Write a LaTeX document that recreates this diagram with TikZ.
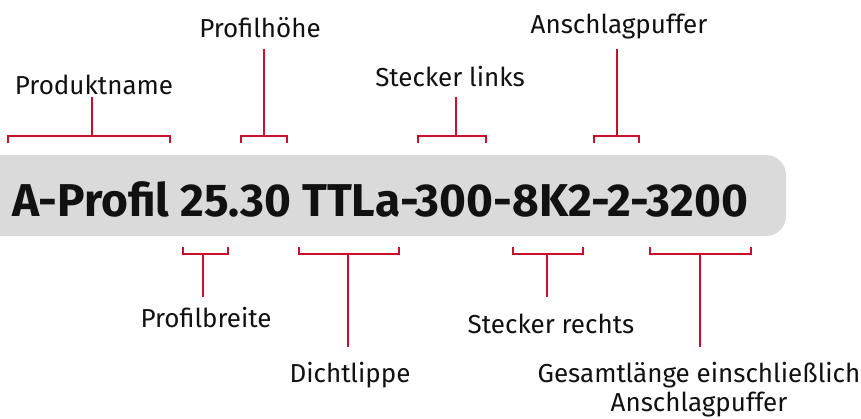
\documentclass[tikz,border=0pt]{standalone}
\usepackage{fontspec}
\setmainfont{Fira Sans}
\usepackage{tikz}
\usepackage{xcolor}
\usetikzlibrary{positioning, calc}
\definecolor{TagRed}{HTML}{C8102E}
\definecolor{TagGrey}{HTML}{DADADA}
\definecolor{TagBlack}{HTML}{111111}

\begin{document}
\begin{tikzpicture}[
    x=1pt, y=-1pt,
    bracket/.style={draw=TagRed, line width=2pt},
    lbl/.style={font=\fontsize{26}{29}\selectfont, text=TagBlack, inner sep=0pt, anchor=base},
    code/.style={font=\fontsize{46}{50}\selectfont\bfseries, text=TagBlack, inner sep=0pt, anchor=base west}
]
\useasboundingbox (0,0) rectangle (861,418);

% Grey band with the article code
\fill[TagGrey, rounded corners=20pt] (-40,155) rectangle (786,236);
\node[code] (code) at (12,216) {A-Profil 25.30 TTLa-300-8K2-2-3200};

% Labels above
\node[lbl] (produktname) at (94,94) {Produktname};
\node[lbl] (profilhoehe) at (260,37) {Profilhöhe};
\node[lbl] (steckerl) at (450,86) {Stecker links};
\node[lbl] (puffer) at (619,33) {Anschlagpuffer};

% Labels below
\node[lbl] (profilbreite) at (206,327) {Profilbreite};
\node[lbl] (dichtlippe) at (350,382) {Dichtlippe};
\node[lbl] (steckerr) at (551,333) {Stecker rechts};
\node[lbl, align=center] (gesamt) at (699,411) {Gesamtlänge einschließlich\\Anschlagpuffer};

% Brackets above
\coordinate (pn) at (92,136);
\coordinate (ph) at (264,136);
\coordinate (sl) at (456,136);
\coordinate (ap) at (617,136);
\draw[bracket] (8,143) -- (8,136) -- (170,136) -- (170,143);
\draw[bracket] (pn) -- ++(0,-39);
\draw[bracket] (241,143) -- (241,136) -- (287,136) -- (287,143);
\draw[bracket] (ph) -- ++(0,-87);
\draw[bracket] (418,143) -- (418,136) -- (486,136) -- (486,143);
\draw[bracket] (sl) -- ++(0,-39);
\draw[bracket] (594,143) -- (594,136) -- (639,136) -- (639,143);
\draw[bracket] (ap) -- ++(0,-87);

% Brackets below
\coordinate (pb) at (203,254);
\coordinate (dl) at (348,254);
\coordinate (sr) at (547,254);
\coordinate (gl) at (700,254);
\draw[bracket] (183,247) -- (183,254) -- (228,254) -- (228,247);
\draw[bracket] (pb) -- ++(0,43);
\draw[bracket] (299,247) -- (299,254) -- (399,254) -- (399,247);
\draw[bracket] (dl) -- ++(0,93);
\draw[bracket] (513,247) -- (513,254) -- (583,254) -- (583,247);
\draw[bracket] (sr) -- ++(0,43);
\draw[bracket] (650,247) -- (650,254) -- (751,254) -- (751,247);
\draw[bracket] (gl) -- ++(0,93);

\end{tikzpicture}
\end{document}
